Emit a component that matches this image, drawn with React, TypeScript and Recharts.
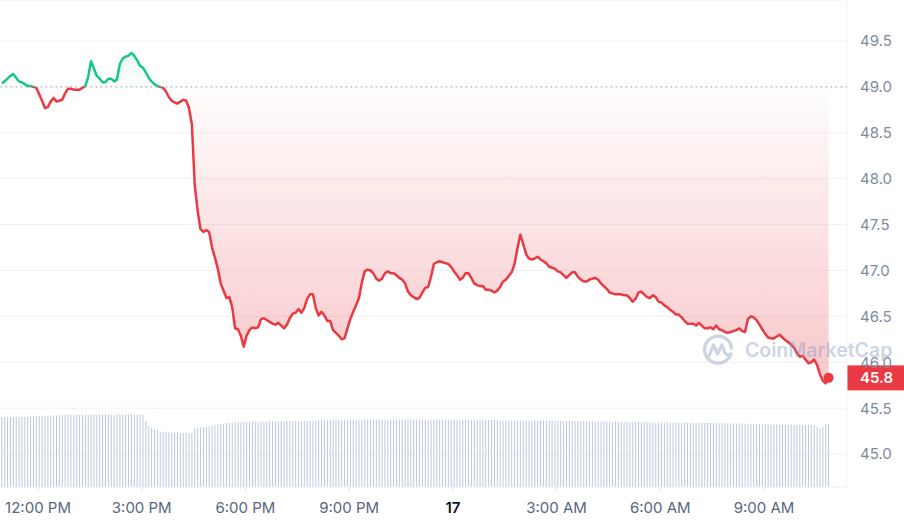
import {
  Area,
  Bar,
  CartesianGrid,
  ComposedChart,
  ReferenceDot,
  ReferenceLine,
  XAxis,
  YAxis,
} from "recharts";

// 5-minute prices over 24h
const priceValues = [
  49.04, 49.06, 49.09, 49.12, 49.14, 49.1, 49.06, 49.05, 49.03, 49.01,
  49.01, 49.0, 48.99, 48.92, 48.85, 48.77, 48.78, 48.84, 48.88, 48.84,
  48.85, 48.86, 48.93, 48.98, 48.98, 48.97, 48.97, 48.97, 48.99, 49.01,
  49.11, 49.28, 49.2, 49.12, 49.09, 49.05, 49.05, 49.09, 49.09, 49.06,
  49.08, 49.25, 49.31, 49.33, 49.34, 49.37, 49.34, 49.29, 49.23, 49.21,
  49.16, 49.1, 49.06, 49.03, 49.01, 49.0, 48.99, 48.95, 48.89, 48.85,
  48.83, 48.82, 48.84, 48.86, 48.85, 48.77, 48.59, 47.93, 47.65, 47.45,
  47.42, 47.44, 47.42, 47.25, 47.14, 47.02, 46.86, 46.78, 46.7, 46.71,
  46.6, 46.37, 46.36, 46.29, 46.17, 46.29, 46.35, 46.38, 46.37, 46.38,
  46.47, 46.48, 46.46, 46.44, 46.42, 46.41, 46.43, 46.4, 46.37, 46.41,
  46.48, 46.53, 46.54, 46.58, 46.54, 46.59, 46.69, 46.74, 46.74, 46.59,
  46.51, 46.55, 46.51, 46.45, 46.45, 46.35, 46.32, 46.29, 46.25, 46.26,
  46.37, 46.47, 46.55, 46.62, 46.7, 46.87, 46.99, 47.01, 47.0, 46.97,
  46.91, 46.89, 46.91, 46.97, 46.99, 46.97, 46.97, 46.95, 46.92, 46.9,
  46.86, 46.77, 46.73, 46.71, 46.69, 46.7, 46.76, 46.81, 46.82, 46.93,
  47.07, 47.09, 47.1, 47.09, 47.08, 47.07, 47.04, 46.99, 46.95, 46.9,
  46.92, 46.97, 46.97, 46.92, 46.86, 46.84, 46.83, 46.83, 46.79, 46.79,
  46.78, 46.76, 46.78, 46.82, 46.88, 46.9, 46.94, 46.98, 47.07, 47.24,
  47.39, 47.29, 47.18, 47.13, 47.12, 47.13, 47.15, 47.12, 47.1, 47.08,
  47.04, 47.03, 47.02, 46.99, 46.98, 46.95, 46.92, 46.95, 46.98, 46.98,
  46.93, 46.9, 46.88, 46.88, 46.9, 46.91, 46.92, 46.9, 46.86, 46.83,
  46.8, 46.76, 46.75, 46.74, 46.74, 46.74, 46.73, 46.73, 46.7, 46.66,
  46.69, 46.76, 46.77, 46.74, 46.71, 46.7, 46.73, 46.71, 46.66, 46.65,
  46.62, 46.6, 46.57, 46.55, 46.52, 46.52, 46.49, 46.45, 46.42, 46.42,
  46.42, 46.4, 46.43, 46.4, 46.37, 46.37, 46.38, 46.36, 46.4, 46.36,
  46.35, 46.33, 46.32, 46.33, 46.34, 46.35, 46.37, 46.34, 46.33, 46.47,
  46.5, 46.49, 46.46, 46.41, 46.36, 46.31, 46.27, 46.26, 46.26, 46.28,
  46.3, 46.27, 46.24, 46.22, 46.19, 46.16, 46.1, 46.06, 46.07, 46.03,
  45.99, 46.0, 46.03, 45.97, 45.87, 45.8, 45.77, 45.83,
];

// rolling volume, same 5-minute steps (arbitrary units)
const volumeValues = [
  69.7, 69.8, 69.8, 69.9, 70.0, 70.1, 70.2, 70.3, 70.3, 70.5,
  70.6, 70.7, 70.9, 71.0, 71.1, 71.2, 71.3, 71.4, 71.5, 71.6,
  71.7, 71.8, 71.9, 72.0, 72.1, 72.1, 72.2, 72.2, 72.3, 72.3,
  72.3, 72.4, 72.4, 72.4, 72.5, 72.5, 72.5, 72.5, 72.6, 72.6,
  72.6, 72.6, 72.6, 72.6, 72.5, 72.5, 72.5, 72.5, 72.4, 72.4,
  66.0, 61.0, 59.0, 57.5, 56.5, 55.8, 55.3, 55.0, 54.8, 54.5,
  54.3, 54.2, 54.1, 54.0, 54.0, 53.8, 53.7, 58.7, 59.0, 59.5,
  60.0, 60.3, 60.8, 61.5, 62.0, 62.5, 62.8, 63.2, 63.8, 64.3,
  64.6, 64.9, 65.1, 65.3, 65.3, 65.4, 65.4, 65.5, 65.5, 65.5,
  65.6, 65.6, 65.6, 65.7, 65.7, 65.7, 65.8, 65.8, 65.8, 65.9,
  65.9, 65.9, 66.0, 66.0, 66.0, 66.1, 66.2, 66.3, 66.4, 66.5,
  66.6, 66.7, 66.8, 66.9, 67.0, 67.1, 67.1, 67.2, 67.2, 67.3,
  67.3, 67.3, 67.4, 67.4, 67.4, 67.4, 67.5, 67.5, 67.5, 67.5,
  67.5, 67.5, 67.6, 67.6, 67.6, 67.6, 67.6, 67.6, 67.6, 67.6,
  67.6, 67.6, 67.5, 67.5, 67.5, 67.5, 67.5, 67.5, 67.5, 67.4,
  67.4, 67.4, 67.4, 67.4, 67.3, 67.3, 67.3, 67.3, 67.3, 67.2,
  67.2, 67.2, 67.2, 67.1, 67.1, 67.1, 67.0, 67.0, 67.0, 66.9,
  66.9, 66.9, 66.8, 66.8, 66.8, 66.7, 66.7, 66.6, 66.6, 66.6,
  66.5, 66.5, 66.5, 66.4, 66.4, 66.4, 66.3, 66.3, 66.3, 66.2,
  66.2, 66.2, 66.1, 66.1, 66.1, 66.0, 66.0, 66.0, 65.9, 65.9,
  65.9, 65.8, 65.8, 65.7, 65.7, 65.6, 65.6, 65.5, 65.5, 65.4,
  65.4, 65.3, 65.3, 65.2, 65.2, 65.1, 65.1, 65.0, 65.0, 65.0,
  64.9, 64.9, 64.8, 64.8, 64.7, 64.7, 64.6, 64.6, 64.5, 64.5,
  64.5, 64.4, 64.4, 64.3, 64.3, 64.3, 64.2, 64.2, 64.1, 64.1,
  64.1, 64.0, 64.0, 64.0, 63.9, 63.9, 63.9, 63.8, 63.8, 63.8,
  63.7, 63.7, 63.7, 63.6, 63.6, 63.6, 63.5, 63.4, 63.3, 63.2,
  63.1, 63.0, 62.9, 62.8, 62.7, 62.7, 62.6, 62.5, 62.5, 62.4,
  62.4, 62.3, 62.3, 62.2, 62.2, 62.2, 62.1, 62.1, 62.1, 62.0,
  62.0, 62.0, 61.5, 60.0, 59.0, 59.5, 63.0, 63.0,
];

// minutes since 10:54 AM
const tickMinutes = [66, 246, 426, 606, 786, 966, 1146, 1326];
const tickLabels = [
  "12:00 PM",
  "3:00 PM",
  "6:00 PM",
  "9:00 PM",
  "17",
  "3:00 AM",
  "6:00 AM",
  "9:00 AM",
];
const priceTicks = [45, 45.5, 46, 46.5, 47, 47.5, 48, 48.5, 49, 49.5];
const openPrice = 49.0;

const UP = "#16c784";
const DOWN = "#ea3943";
const FONT = "Inter, 'Noto Sans', sans-serif";

const WIDTH = 904;
const HEIGHT = 522;
const PLOT_BOTTOM = 487;
const BASE_Y = 87; // pixel row of the open price line

const data = priceValues.map((price, i) => ({
  t: 3 + i * 5,
  price,
  volume: volumeValues[i],
}));

const last = data[data.length - 1];

function TimeTick({ x, y, payload }: any) {
  const label = tickLabels[tickMinutes.indexOf(payload.value)];
  const isDay = label === "17";
  return (
    <text
      x={x}
      y={y}
      dy="0.71em"
      textAnchor="middle"
      fontFamily={FONT}
      fontSize={15}
      fontWeight={isDay ? 600 : 400}
      fill={isDay ? "#0d1421" : "#58667e"}
    >
      {label}
    </text>
  );
}

function PriceTick({ x, y, payload }: any) {
  return (
    <text
      x={x}
      y={y}
      dy="0.36em"
      textAnchor="start"
      fontFamily={FONT}
      fontSize={15}
      fill="#808a9d"
    >
      {Number(payload.value).toFixed(1)}
    </text>
  );
}

function PriceBadge({ viewBox }: any) {
  if (!viewBox) return null;
  const left = viewBox.x + viewBox.width;
  return (
    <g>
      <rect
        x={left}
        y={viewBox.y - 12.5}
        width={WIDTH - left}
        height={25}
        fill={DOWN}
      />
      <text
        x={left + 13}
        y={viewBox.y}
        dy="0.36em"
        fontFamily={FONT}
        fontSize={15}
        fontWeight={600}
        fill="#ffffff"
      >
        {last.price.toFixed(1)}
      </text>
    </g>
  );
}

function Watermark() {
  return (
    <div
      style={{
        position: "absolute",
        left: 701,
        top: 333,
        display: "flex",
        alignItems: "center",
        gap: 10,
        opacity: 0.42,
        color: "#8a9ac0",
        pointerEvents: "none",
      }}
    >
      <svg width={34} height={34} viewBox="0 0 34 34">
        <path
          d="M29 23 A13.5 13.5 0 1 1 30.5 15"
          fill="none"
          stroke="currentColor"
          strokeWidth={3.4}
          strokeLinecap="round"
        />
        <path
          d="M8 23 L12.5 12 L16.5 21 L21 12 L24 20 Q26 23 30 21"
          fill="none"
          stroke="currentColor"
          strokeWidth={3.2}
          strokeLinecap="round"
          strokeLinejoin="round"
        />
      </svg>
      <span
        style={{
          fontFamily: FONT,
          fontSize: 19.5,
          fontWeight: 600,
        }}
      >
        CoinMarketCap
      </span>
    </div>
  );
}

export default function App() {
  const baseOffset = BASE_Y / PLOT_BOTTOM;

  return (
    <div
      style={{
        position: "absolute",
        left: 0,
        top: 0,
        width: WIDTH,
        height: HEIGHT,
        background: "#ffffff",
        fontFamily: FONT,
      }}
    >
      <ComposedChart
        width={WIDTH}
        height={HEIGHT}
        data={data}
        margin={{ top: 0, right: 0, bottom: 0, left: 0 }}
      >
        <defs>
          <linearGradient
            id="strokeSplit"
            gradientUnits="userSpaceOnUse"
            x1={0}
            y1={0}
            x2={0}
            y2={PLOT_BOTTOM}
          >
            <stop offset={0} stopColor={UP} />
            <stop offset={baseOffset} stopColor={UP} />
            <stop offset={baseOffset} stopColor={DOWN} />
            <stop offset={1} stopColor={DOWN} />
          </linearGradient>
          <linearGradient
            id="fillSplit"
            gradientUnits="userSpaceOnUse"
            x1={0}
            y1={0}
            x2={0}
            y2={PLOT_BOTTOM}
          >
            <stop offset={0} stopColor={UP} stopOpacity={0.22} />
            <stop offset={baseOffset} stopColor={UP} stopOpacity={0.01} />
            <stop offset={baseOffset} stopColor={DOWN} stopOpacity={0.01} />
            <stop offset={1} stopColor={DOWN} stopOpacity={0.38} />
          </linearGradient>
        </defs>

        <CartesianGrid
          yAxisId="price"
          vertical={false}
          stroke="#eff2f5"
        />

        <XAxis
          dataKey="t"
          type="number"
          domain={[0, 1470]}
          ticks={tickMinutes}
          interval={0}
          height={HEIGHT - PLOT_BOTTOM}
          axisLine={{ stroke: "#eff2f5" }}
          tickLine={{ stroke: "#e3e6eb" }}
          tickSize={5}
          tickMargin={10}
          tick={<TimeTick />}
        />

        <YAxis
          yAxisId="price"
          orientation="right"
          domain={[44.641, 49.947]}
          ticks={priceTicks}
          interval={0}
          width={WIDTH - 847}
          axisLine={{ stroke: "#eff2f5" }}
          tickLine={false}
          tickSize={6}
          tickMargin={7}
          tick={<PriceTick />}
          allowDataOverflow
        />

        <YAxis yAxisId="vol" hide domain={[0, PLOT_BOTTOM]} />

        <Bar
          yAxisId="vol"
          dataKey="volume"
          fill="#bcc7dc"
          barSize={1}
          isAnimationActive={false}
        />

        <ReferenceLine
          yAxisId="price"
          y={openPrice}
          stroke="#a3abb9"
          strokeWidth={1.3}
          strokeDasharray="1.3 3.7"
        />

        <Area
          yAxisId="price"
          type="linear"
          dataKey="price"
          baseValue={openPrice}
          stroke="url(#strokeSplit)"
          strokeWidth={2.5}
          strokeLinejoin="round"
          fill="url(#fillSplit)"
          fillOpacity={1}
          dot={false}
          activeDot={false}
          isAnimationActive={false}
        />

        <ReferenceDot
          yAxisId="price"
          x={last.t}
          y={last.price}
          r={5}
          fill={DOWN}
          stroke="none"
        />

        <ReferenceLine
          yAxisId="price"
          y={last.price}
          stroke="none"
          label={<PriceBadge />}
        />
      </ComposedChart>
      <Watermark />
    </div>
  );
}
